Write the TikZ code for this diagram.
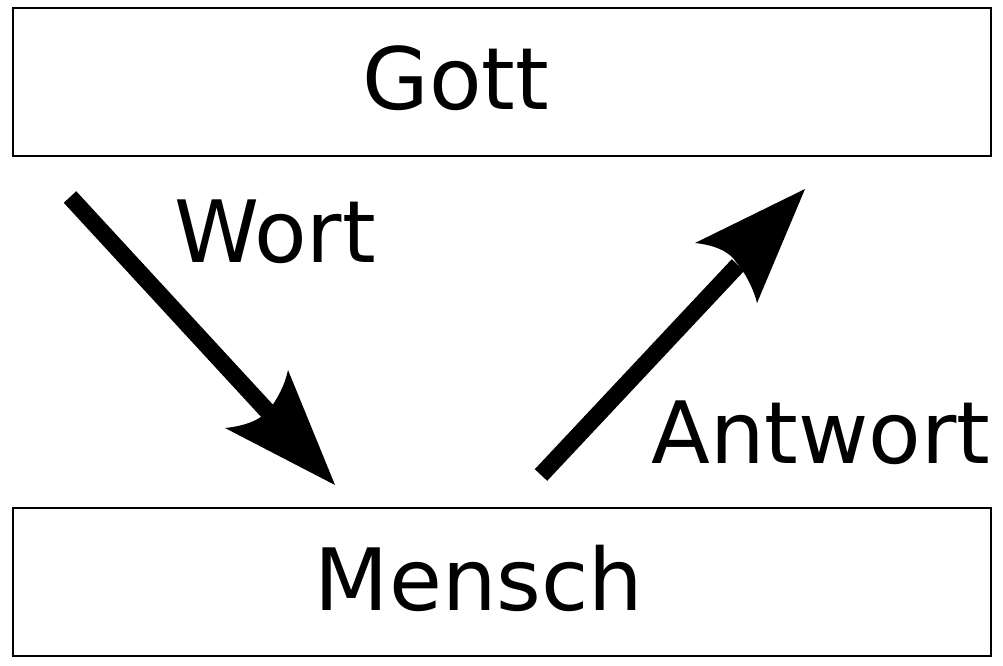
\documentclass[tikz,border=0pt]{standalone}
\usepackage{fontspec}
\setmainfont{DejaVu Sans}
\begin{document}
\begin{tikzpicture}[x=1pt,y=-1pt,
  box/.style={draw=black,line width=2pt},
  lbl/.style={font=\fontsize{86}{100}\selectfont,anchor=base,inner sep=0pt},
  shaft/.style={line width=17pt},
  head/.style={fill=black}]
\useasboundingbox (0,0) rectangle (1003,665);
\draw[box] (13,8) rectangle (991,156);
\draw[box] (13,508) rectangle (991,656);
\node[lbl] (gott) at (456,109) {Gott};
\node[lbl] (mensch) at (479,610) {Mensch};
\node[lbl] (wort) at (275,262) {Wort};
\node[lbl] (antwort) at (821,463) {Antwort};
% arrow Wort
\coordinate (w1) at (70,197);
\coordinate (w2) at (270,414);
\draw[shaft] (w1) -- (w2);
\fill[head] (335,485) -- (225,428) .. controls (245,426) and (260,420) .. (268,411) .. controls (277,400) and (285,385) .. (288,370) -- cycle;
% arrow Antwort
\coordinate (a1) at (541,475);
\coordinate (a2) at (738,265);
\draw[shaft] (a1) -- (a2);
\fill[head] (805,189) -- (695,243) .. controls (715,245) and (730,252) .. (736,262) .. controls (745,272) and (754,290) .. (757,303) -- cycle;
\end{tikzpicture}
\end{document}
